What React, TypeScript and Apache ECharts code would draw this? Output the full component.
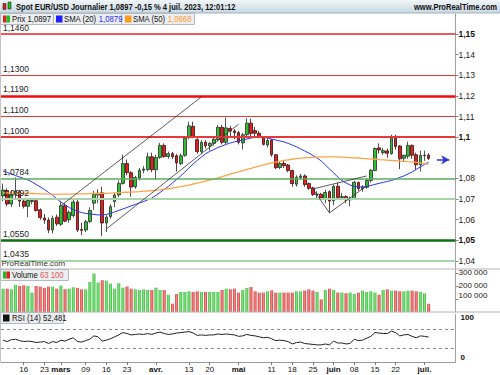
import React, { useEffect, useRef } from "react";
import * as echarts from "echarts";

const FONT = "'Liberation Sans', Arial, sans-serif";

const dates = [
  "2023-02-09","2023-02-10","2023-02-13","2023-02-14","2023-02-15","2023-02-16","2023-02-17","2023-02-20","2023-02-21","2023-02-22","2023-02-23","2023-02-24","2023-02-27","2023-02-28",
  "2023-03-01","2023-03-02","2023-03-03","2023-03-06","2023-03-07","2023-03-08","2023-03-09","2023-03-10","2023-03-13","2023-03-14","2023-03-15","2023-03-16","2023-03-17","2023-03-20","2023-03-21","2023-03-22","2023-03-23","2023-03-24","2023-03-27","2023-03-28","2023-03-29","2023-03-30","2023-03-31",
  "2023-04-03","2023-04-04","2023-04-05","2023-04-06","2023-04-07","2023-04-10","2023-04-11","2023-04-12","2023-04-13","2023-04-14","2023-04-17","2023-04-18","2023-04-19","2023-04-20","2023-04-21","2023-04-24","2023-04-25","2023-04-26","2023-04-27","2023-04-28",
  "2023-05-01","2023-05-02","2023-05-03","2023-05-04","2023-05-05","2023-05-08","2023-05-09","2023-05-10","2023-05-11","2023-05-12","2023-05-15","2023-05-16","2023-05-17","2023-05-18","2023-05-19","2023-05-22","2023-05-23","2023-05-24","2023-05-25","2023-05-26","2023-05-29","2023-05-30","2023-05-31",
  "2023-06-01","2023-06-02","2023-06-05","2023-06-06","2023-06-07","2023-06-08","2023-06-09","2023-06-12","2023-06-13","2023-06-14","2023-06-15","2023-06-16","2023-06-19","2023-06-20","2023-06-21","2023-06-22","2023-06-23","2023-06-26","2023-06-27","2023-06-28","2023-06-29","2023-06-30",
  "2023-07-03","2023-07-04","2023-07-05","2023-07-06","2023-07-07","2023-07-10","2023-07-11","2023-07-12",
];

const openP = [
  1.0715,1.0741,1.0676,1.0722,1.0735,1.0690,1.0665,1.0688,1.0692,1.0648,
  1.0608,1.0598,1.0550,1.0612,1.0578,1.0668,1.0600,1.0620,1.0686,1.0552,
  1.0550,1.0591,1.0680,1.0720,1.0730,1.0584,1.0615,1.0688,1.0720,1.0776,
  1.0872,1.0828,1.0760,1.0802,1.0840,1.0843,1.0905,1.0842,1.0902,1.0960,
  1.0906,1.0920,1.0910,1.0872,1.0912,1.0998,1.1052,1.0988,1.0930,1.0975,
  1.0958,1.0970,1.0988,1.1048,1.0975,1.1042,1.1030,1.1022,1.0972,1.1012,
  1.1068,1.1032,1.1019,1.1000,1.0962,1.0986,1.0915,1.0853,1.0873,1.0865,
  1.0838,1.0772,1.0805,1.0812,1.0775,1.0754,1.0722,1.0723,1.0700,1.0736,
  1.0692,1.0762,1.0708,1.0712,1.0696,1.0702,1.0780,1.0750,1.0757,1.0790,
  1.0838,1.0948,1.0925,1.0933,1.0920,1.0995,1.0957,1.0898,1.0908,1.0960,
  1.0915,1.0866,1.0910,1.0913,
];
const closeP = [
  1.0744,1.0676,1.0722,1.0738,1.0690,1.0665,1.0693,1.0693,1.0645,1.0610,
  1.0598,1.0550,1.0606,1.0580,1.0668,1.0593,1.0636,1.0686,1.0550,1.0548,
  1.0590,1.0645,1.0722,1.0728,1.0584,1.0612,1.0663,1.0720,1.0776,1.0872,
  1.0828,1.0758,1.0805,1.0840,1.0846,1.0905,1.0842,1.0902,1.0960,1.0906,
  1.0920,1.0905,1.0875,1.0910,1.0995,1.1055,1.1000,1.0930,1.0975,1.0958,
  1.0970,1.0990,1.1048,1.0975,1.1045,1.1030,1.1022,1.0975,1.1012,1.1068,
  1.1018,1.1019,1.1002,1.0965,1.0984,1.0915,1.0852,1.0872,1.0862,1.0838,
  1.0775,1.0806,1.0812,1.0770,1.0752,1.0722,1.0724,1.0705,1.0732,1.0690,
  1.0762,1.0708,1.0712,1.0696,1.0700,1.0782,1.0750,1.0756,1.0790,1.0840,
  1.0945,1.0938,1.0935,1.0922,1.0995,1.0955,1.0895,1.0912,1.0960,1.0912,
  1.0866,1.0912,1.0913,1.0897,
];
const lowP = [
  1.0690,1.0665,1.0662,1.0700,1.0662,1.0655,1.0612,1.0675,1.0640,1.0600,
  1.0580,1.0535,1.0533,1.0570,1.0570,1.0588,1.0585,1.0610,1.0540,1.0525,
  1.0540,1.0585,1.0648,1.0680,1.0520,1.0540,1.0605,1.0660,1.0710,1.0770,
  1.0815,1.0712,1.0750,1.0790,1.0825,1.0835,1.0830,1.0793,1.0895,1.0900,
  1.0895,1.0895,1.0833,1.0865,1.0905,1.0990,1.0995,1.0920,1.0920,1.0945,
  1.0935,1.0960,1.0980,1.0965,1.0965,1.1000,1.0990,1.0965,1.0940,1.1000,
  1.1005,1.1005,1.0995,1.0960,1.0950,1.0905,1.0845,1.0845,1.0850,1.0830,
  1.0760,1.0760,1.0795,1.0760,1.0745,1.0715,1.0705,1.0695,1.0680,1.0635,
  1.0670,1.0700,1.0695,1.0680,1.0665,1.0695,1.0740,1.0735,1.0750,1.0780,
  1.0835,1.0920,1.0915,1.0900,1.0915,1.0940,1.0845,1.0880,1.0895,1.0895,
  1.0840,1.0833,1.0885,1.0890,
];
const highP = [
  1.0775,1.0752,1.0740,1.0805,1.0745,1.0705,1.0702,1.0705,1.0706,1.0655,
  1.0628,1.0610,1.0620,1.0625,1.0690,1.0680,1.0645,1.0695,1.0695,1.0585,
  1.0598,1.0660,1.0740,1.0748,1.0760,1.0622,1.0675,1.0730,1.0790,1.0915,
  1.0892,1.0835,1.0812,1.0850,1.0860,1.0925,1.0925,1.0915,1.0972,1.0970,
  1.0930,1.0928,1.0918,1.0920,1.1000,1.1075,1.1075,1.0995,1.0985,1.0985,
  1.0975,1.0998,1.1058,1.1060,1.1095,1.1055,1.1040,1.1030,1.1020,1.1092,
  1.1090,1.1050,1.1030,1.1005,1.0995,1.0990,1.0918,1.0880,1.0885,1.0870,
  1.0842,1.0815,1.0822,1.0820,1.0780,1.0760,1.0738,1.0730,1.0745,1.0742,
  1.0770,1.0780,1.0730,1.0718,1.0712,1.0787,1.0785,1.0768,1.0800,1.0845,
  1.0950,1.0970,1.0948,1.0945,1.1012,1.1012,1.0962,1.0915,1.0978,1.0965,
  1.0925,1.0935,1.0935,1.0922,
];

const sma20 = [
  1.0836,1.0829,1.0822,1.0814,1.0807,1.0800,1.0793,1.0783,1.0771,1.0759,
  1.0747,1.0732,1.0718,1.0701,1.0686,1.0672,1.0659,1.0650,1.0640,1.0635,
  1.0630,1.0628,1.0626,1.0623,1.0623,1.0626,1.0630,1.0638,1.0645,1.0652,
  1.0659,1.0667,1.0674,1.0681,1.0688,1.0696,1.0705,1.0718,1.0732,1.0747,
  1.0761,1.0778,1.0795,1.0812,1.0831,1.0851,1.0870,1.0887,1.0904,1.0919,
  1.0931,1.0940,1.0950,1.0957,1.0965,1.0972,1.0977,1.0982,1.0986,1.0991,
  1.0996,1.0999,1.0999,1.0999,1.0996,1.0991,1.0986,1.0982,1.0977,1.0970,
  1.0962,1.0953,1.0943,1.0933,1.0923,1.0911,1.0899,1.0885,1.0865,1.0846,
  1.0827,1.0807,1.0790,1.0778,1.0768,1.0761,1.0759,1.0759,1.0761,1.0766,
  1.0771,1.0776,1.0781,1.0785,1.0790,1.0797,1.0805,1.0812,1.0822,1.0831,
  1.0844,1.0856,1.0868,1.0879,
];
const sma50 = [
  1.0730,1.0730,1.0729,1.0729,1.0728,1.0727,1.0727,1.0727,1.0726,1.0725,
  1.0725,1.0724,1.0724,1.0723,1.0724,1.0724,1.0724,1.0725,1.0725,1.0725,
  1.0725,1.0726,1.0727,1.0727,1.0728,1.0728,1.0729,1.0730,1.0731,1.0732,
  1.0733,1.0734,1.0735,1.0736,1.0738,1.0739,1.0741,1.0743,1.0745,1.0748,
  1.0750,1.0753,1.0757,1.0760,1.0764,1.0768,1.0773,1.0777,1.0782,1.0787,
  1.0792,1.0797,1.0803,1.0809,1.0815,1.0821,1.0827,1.0832,1.0838,1.0844,
  1.0849,1.0855,1.0860,1.0865,1.0870,1.0875,1.0879,1.0883,1.0887,1.0890,
  1.0893,1.0896,1.0898,1.0900,1.0901,1.0902,1.0903,1.0904,1.0904,1.0904,
  1.0904,1.0904,1.0903,1.0902,1.0901,1.0900,1.0899,1.0897,1.0896,1.0894,
  1.0893,1.0891,1.0890,1.0889,1.0887,1.0886,1.0884,1.0883,1.0881,1.0880,
  1.0878,1.0875,1.0872,1.0868,
];

const volumes = [
  179000,179000,174000,210000,200000,205000,200000,149000,200000,195000,
  185000,195000,195000,179000,203000,174000,179000,190000,185000,174000,
  174000,231000,295000,226000,244000,241000,218000,179000,221000,187000,
  195000,179000,174000,169000,174000,169000,169000,187000,169000,169000,
  133000,64000,138000,154000,154000,159000,154000,159000,154000,154000,
  154000,154000,154000,169000,179000,174000,179000,149000,169000,185000,
  192000,159000,149000,149000,159000,167000,149000,149000,149000,149000,
  149000,159000,159000,164000,174000,164000,154000,97000,169000,179000,
  169000,149000,149000,144000,149000,138000,149000,164000,154000,159000,
  149000,133000,169000,174000,164000,164000,159000,159000,164000,164000,
  159000,154000,144000,63100,
];

const rsi = [
  46,43,47,48,45,43,44,43,41,42,
  43,39,43,41,46,44,48,51,43,42,
  45,48,55,53,44,46,49,53,57,62,
  60,57,58,59,58,60,58,61,63,60,
  58,59,61,62,63,64,61,56,57,56,
  57,57,59,58,59,58,57,54,55,58,
  56,55,53,51,52,49,45,46,45,43,
  38,41,42,39,38,37,36,36,38,36,
  44,40,40,38,39,48,45,46,50,54,
  62,61,60,60,65,62,55,57,58,54,
  51,55,54,52.481,
];

const priceTicks = [1.04, 1.05, 1.06, 1.07, 1.08, 1.1, 1.11, 1.12, 1.13, 1.14, 1.15];
const volumeTicks = [100000, 200000, 300000];
const rsiTicks = [0, 100];
const rsiBands = [70, 30];

const dateTicks: [string, string][] = [
  ["2023-02-16", "16"], ["2023-02-23", "23"], ["2023-03-01", "mars"], ["2023-03-09", "09"],
  ["2023-03-16", "16"], ["2023-03-23", "23"], ["2023-04-03", "avr."], ["2023-04-13", "13"],
  ["2023-04-20", "20"], ["2023-05-01", "mai"], ["2023-05-11", "11"], ["2023-05-18", "18"],
  ["2023-05-25", "25"], ["2023-06-01", "juin"], ["2023-06-08", "08"], ["2023-06-15", "15"],
  ["2023-06-22", "22"], ["2023-07-03", "juil."],
];

const levelValues = [1.146, 1.13, 1.119, 1.11, 1.1, 1.0784, 1.0692, 1.055, 1.0435];
const levelStyles = [
  { color: "#e42222", width: 1.5 },
  { color: "#e83535", width: 1 },
  { color: "#f00c0c", width: 2.5 },
  { color: "#e83535", width: 1 },
  { color: "#e63a3a", width: 2 },
  { color: "#5cae5c", width: 1.5 },
  { color: "#a9d4a9", width: 2 },
  { color: "#0f700f", width: 2.5 },
  { color: "#a9d4a9", width: 2 },
];

const trendLines: [string, number][][] = [
  [["2023-03-01", 1.0668], ["2023-04-18", 1.1195]],
  [["2023-03-16", 1.0555], ["2023-05-01", 1.1063]],
  [["2023-05-25", 1.0749], ["2023-06-13", 1.0812]],
  [["2023-05-25", 1.0749], ["2023-05-31", 1.0633]],
  [["2023-05-31", 1.0633], ["2023-06-13", 1.0764]],
];
const arrowLine: [string, number][] = [["2023-07-06", 1.089], ["2023-07-11", 1.089]];

const lastPrice = 1.0897;
const lastSma20 = 1.0879;
const lastSma50 = 1.0868;
const lastVolume = 63100;
const lastRsi = 52.481;

const fmtComma = (v: number, d: number) => v.toFixed(d).replace(".", ",");
const fmtAxisPrice = (v: number) => v.toFixed(2).replace(/0$/, "").replace(".", ",");
const fmtVol = (v: number) => {
  const s = Math.round(v).toString();
  return s.replace(/\B(?=(\d{3})+(?!\d))/g, " ");
};

export default function App() {
  const ref = useRef<HTMLDivElement>(null);

  useEffect(() => {
    if (!ref.current) return;
    const chart = echarts.init(ref.current, null, { renderer: "svg", width: 500, height: 375 });

    const labelMap: Record<string, string> = {};
    dateTicks.forEach(([d, t]) => (labelMap[d] = t));

    const candleData = openP.map((o, i) => [o, closeP[i], lowP[i], highP[i]]);
    const upGrad = new echarts.graphic.LinearGradient(0, 0, 1, 0, [
      { offset: 0, color: "#34ba34" },
      { offset: 0.5, color: "#86e286" },
      { offset: 1, color: "#34ba34" },
    ]);
    const downGrad = new echarts.graphic.LinearGradient(0, 0, 1, 0, [
      { offset: 0, color: "#d43838" },
      { offset: 0.5, color: "#f08c8c" },
      { offset: 1, color: "#d43838" },
    ]);
    const volData = volumes.map((v, i) => ({
      value: v,
      itemStyle: { color: closeP[i] >= openP[i] ? upGrad : downGrad },
    }));

    const levelMarks = levelValues.map((v, i) => ({
      yAxis: v,
      lineStyle: { color: levelStyles[i].color, width: levelStyles[i].width, type: "solid" },
      label: {
        show: true,
        position: "insideStartTop",
        formatter: fmtComma(v, 4),
        color: "#222",
        fontSize: 8.5,
        fontFamily: FONT,
        distance: 2,
      },
    }));
    const trendMarks = trendLines.map((seg) => [
      { coord: seg[0], lineStyle: { color: "#333", width: 0.8, type: "solid" }, label: { show: false } },
      { coord: seg[1] },
    ]);
    const arrowMark = [
      { coord: arrowLine[0], lineStyle: { color: "#2a3ad8", width: 1.5, type: "solid" }, label: { show: false }, symbol: "none" },
      { coord: arrowLine[1], symbol: "arrow", symbolSize: [7, 8] },
    ];
    const priceBox = {
      yAxis: lastPrice,
      lineStyle: { width: 0, opacity: 0 },
      label: {
        show: true,
        position: "end",
        distance: 1,
        formatter: fmtComma(lastPrice, 4),
        backgroundColor: "#ffd21c",
        borderColor: "#c9a21a",
        borderWidth: 1,
        padding: [2, 3, 1, 3],
        color: "#000",
        fontWeight: "bold",
        fontSize: 9.5,
        fontFamily: FONT,
      },
    };

    const xBase = {
      type: "category",
      data: dates,
      boundaryGap: true,
    };

    const option: any = {
      animation: false,
      backgroundColor: "#ffffff",
      textStyle: { fontFamily: FONT },
      grid: [
        { left: 1, right: 44.5, top: 14, height: 255 },
        { left: 1, right: 44.5, top: 269, height: 43 },
        { left: 1, right: 44.5, top: 314.5, height: 47.5 },
      ],
      xAxis: [
        { ...xBase, gridIndex: 0, show: false },
        { ...xBase, gridIndex: 1, show: false },
        {
          ...xBase,
          gridIndex: 2,
          axisLine: { show: true, lineStyle: { color: "#9a9a9a" } },
          axisTick: {
            show: true,
            alignWithLabel: true,
            length: 3,
            interval: (_i: number, v: string) => !!labelMap[v],
            lineStyle: { color: "#777" },
          },
          axisLabel: {
            interval: 0,
            margin: 3,
            fontSize: 8,
            fontFamily: FONT,
            color: "#111",
            formatter: (v: string) => {
              const t = labelMap[v];
              if (!t) return "";
              return /^\d+$/.test(t) ? t : `{m|${t}}`;
            },
            rich: { m: { fontWeight: "bold", fontSize: 8, fontFamily: FONT, color: "#111" } },
          },
          splitLine: { show: false },
        },
      ],
      yAxis: [
        {
          type: "value",
          gridIndex: 0,
          position: "right",
          min: 1.0361,
          max: 1.1597,
          splitLine: { show: false },
          axisLine: { show: true, lineStyle: { color: "#a0a0a0" } },
          axisTick: { show: true, length: 3, customValues: priceTicks, lineStyle: { color: "#888" } },
          axisLabel: {
            customValues: priceTicks,
            margin: 3,
            fontSize: 8.5,
            fontFamily: FONT,
            color: "#222",
            formatter: (v: number) => {
              const t = fmtAxisPrice(v);
              return Math.round(v * 100) % 5 === 0 ? `{b|${t}}` : t;
            },
            rich: { b: { fontWeight: "bold", fontSize: 8.5, fontFamily: FONT, color: "#111" } },
          },
        },
        {
          type: "value",
          gridIndex: 1,
          position: "right",
          min: 0,
          max: 330000,
          splitLine: { show: false },
          axisLine: { show: true, lineStyle: { color: "#a0a0a0" } },
          axisTick: { show: true, length: 3, customValues: volumeTicks, lineStyle: { color: "#888" } },
          axisLabel: {
            customValues: volumeTicks,
            margin: 3,
            fontSize: 8,
            fontFamily: FONT,
            color: "#222",
            formatter: (v: number) => (v === 100000 ? `{u|${fmtVol(v)}}` : fmtVol(v)),
            rich: { u: { fontSize: 8, fontFamily: FONT, color: "#222", padding: [0, 0, 6, 0] } },
          },
        },
        {
          type: "value",
          gridIndex: 2,
          position: "right",
          min: 0,
          max: 100,
          splitLine: { show: false },
          axisLine: { show: true, lineStyle: { color: "#a0a0a0" } },
          axisTick: { show: false },
          axisLabel: {
            customValues: rsiTicks,
            margin: 5,
            fontSize: 8,
            fontFamily: FONT,
            color: "#111",
            formatter: (v: number) => (v === 100 ? "{t|100}" : "{z|0}"),
            rich: {
              t: { fontWeight: "bold", fontSize: 8, padding: [5, 0, 0, 0], color: "#111" },
              z: { fontWeight: "bold", fontSize: 8, padding: [0, 0, 9, 0], color: "#111" },
            },
          },
        },
      ],
      series: [
        {
          type: "candlestick",
          xAxisIndex: 0,
          yAxisIndex: 0,
          data: candleData,
          barWidth: 3.2,
          itemStyle: {
            color: "#2fbf2f",
            color0: "#e01f1f",
            borderColor: "#2a2a2a",
            borderColor0: "#3a1010",
            borderWidth: 0.8,
          },
          markLine: {
            silent: true,
            symbol: ["none", "none"],
            animation: false,
            data: [...levelMarks, ...trendMarks, arrowMark, priceBox],
          },
          z: 3,
        },
        {
          type: "line",
          xAxisIndex: 0,
          yAxisIndex: 0,
          data: sma20,
          symbol: "none",
          lineStyle: { color: "#2b35f2", width: 1 },
          z: 4,
        },
        {
          type: "line",
          xAxisIndex: 0,
          yAxisIndex: 0,
          data: sma50,
          symbol: "none",
          lineStyle: { color: "#ffa446", width: 1.3 },
          z: 4,
        },
        {
          type: "bar",
          xAxisIndex: 1,
          yAxisIndex: 1,
          data: volData,
          barWidth: "72%",
          markLine: {
            silent: true,
            symbol: ["none", "none"],
            data: [
              {
                yAxis: lastVolume,
                lineStyle: { width: 0, opacity: 0 },
                label: {
                  show: true,
                  position: "end",
                  distance: 3,
                  formatter: fmtVol(lastVolume),
                  backgroundColor: "#fff",
                  borderColor: "#9a9a9a",
                  borderWidth: 1,
                  padding: [1, 2, 0, 2],
                  color: "#e06060",
                  fontSize: 8,
                  fontFamily: FONT,
                },
              },
            ],
          },
        },
        {
          type: "line",
          xAxisIndex: 2,
          yAxisIndex: 2,
          data: rsi,
          symbol: "none",
          lineStyle: { color: "#222", width: 1 },
          markLine: {
            silent: true,
            symbol: ["none", "none"],
            data: [
              ...rsiBands.map((b) => ({
                yAxis: b,
                lineStyle: { color: "#8a8a8a", width: 1, type: [3, 3] },
                label: { show: false },
              })),
              {
                yAxis: lastRsi,
                lineStyle: { width: 0, opacity: 0 },
                label: {
                  show: true,
                  position: "end",
                  distance: 3,
                  formatter: fmtComma(lastRsi, 3),
                  backgroundColor: "#fff",
                  borderColor: "#9a9a9a",
                  borderWidth: 1,
                  padding: [1, 2, 0, 2],
                  color: "#111",
                  fontSize: 8,
                  fontFamily: FONT,
                },
              },
            ],
          },
        },
      ],
      graphic: [
        {
          type: "rect",
          z: 100,
          shape: { x: 0, y: 0, width: 500, height: 13 },
          style: {
            fill: new echarts.graphic.LinearGradient(0, 0, 0, 1, [
              { offset: 0, color: "#f0f5f8" },
              { offset: 1, color: "#c8d8e2" },
            ]),
          },
        },
        { type: "line", z: 100, shape: { x1: 0, y1: 13, x2: 500, y2: 13 }, style: { stroke: "#9fb2be", lineWidth: 1 } },
        { type: "rect", z: 101, shape: { x: 3, y: 3.5, width: 3, height: 6 }, style: { fill: "#d22", stroke: "#222", lineWidth: 0.6 } },
        { type: "rect", z: 101, shape: { x: 8, y: 2, width: 3, height: 7 }, style: { fill: "#2b2", stroke: "#222", lineWidth: 0.6 } },
        {
          type: "text",
          z: 101,
          x: 16,
          y: 7,
          scaleX: 0.84,
          style: {
            text: "Spot EUR/USD Journalier 1,0897 -0,15 % 4 juil. 2023, 12:01:12",
            fontSize: 9,
            fontWeight: "bold",
            fontFamily: FONT,
            fill: "#111",
            verticalAlign: "middle",
          },
        },
        {
          type: "text",
          z: 101,
          x: 497,
          y: 7,
          scaleX: 0.84,
          style: {
            text: "www.ProRealTime.com",
            fontSize: 9,
            fontWeight: "bold",
            fontFamily: FONT,
            fill: "#111",
            align: "right",
            verticalAlign: "middle",
          },
        },
        { type: "rect", z: 100, shape: { x: 0.5, y: 13.5, width: 53, height: 11 }, style: { fill: "#ebedef", stroke: "#b3bac0", lineWidth: 1 } },
        { type: "rect", z: 100, shape: { x: 53.5, y: 13.5, width: 68, height: 11 }, style: { fill: "#ebedef", stroke: "#b3bac0", lineWidth: 1 } },
        { type: "rect", z: 100, shape: { x: 121.5, y: 13.5, width: 73, height: 11 }, style: { fill: "#ebedef", stroke: "#b3bac0", lineWidth: 1 } },
        { type: "rect", z: 101, shape: { x: 3, y: 15.5, width: 3.5, height: 7 }, style: { fill: "#d22" } },
        { type: "rect", z: 101, shape: { x: 6.5, y: 15.5, width: 3.5, height: 7 }, style: { fill: "#2b2" } },
        { type: "rect", z: 101, shape: { x: 56, y: 15.5, width: 6.5, height: 7 }, style: { fill: "#1f1fff" } },
        { type: "rect", z: 101, shape: { x: 125, y: 15.5, width: 6.5, height: 7 }, style: { fill: "#ff9a1f" } },
        {
          type: "text",
          z: 101,
          x: 12,
          y: 19.2,
          scaleX: 0.86,
          style: { text: "Prix " + fmtComma(lastPrice, 4), fontSize: 9, fontFamily: FONT, fill: "#111", verticalAlign: "middle" },
        },
        {
          type: "text",
          z: 101,
          x: 64,
          y: 19.2,
          scaleX: 0.86,
          style: {
            text: "SMA (20) {v|" + fmtComma(lastSma20, 4) + "}",
            fontSize: 9,
            fontFamily: FONT,
            fill: "#111",
            verticalAlign: "middle",
            rich: { v: { fill: "#2b2bff", fontSize: 9, fontFamily: FONT } },
          },
        },
        {
          type: "text",
          z: 101,
          x: 133,
          y: 19.2,
          scaleX: 0.86,
          style: {
            text: "SMA (50) {v|" + fmtComma(lastSma50, 4) + "}",
            fontSize: 9,
            fontFamily: FONT,
            fill: "#111",
            verticalAlign: "middle",
            rich: { v: { fill: "#ff9a2e", fontSize: 9, fontFamily: FONT } },
          },
        },
        {
          type: "text",
          z: 101,
          x: 1.5,
          y: 263.5,
          style: { text: "ProRealTime.com", fontSize: 8, fontFamily: FONT, fill: "#333", verticalAlign: "middle" },
        },
        { type: "line", z: 99, shape: { x1: 0, y1: 269, x2: 500, y2: 269 }, style: { stroke: "#b4b4b4", lineWidth: 1 } },
        { type: "line", z: 99, shape: { x1: 0, y1: 312, x2: 500, y2: 312 }, style: { stroke: "#b4b4b4", lineWidth: 1 } },
        { type: "line", z: 99, shape: { x1: 0.5, y1: 13, x2: 0.5, y2: 362 }, style: { stroke: "#c4c4c4", lineWidth: 1 } },
        { type: "rect", z: 100, shape: { x: 0.5, y: 269.5, width: 68, height: 11 }, style: { fill: "#ebedef", stroke: "#b3bac0", lineWidth: 1 } },
        { type: "rect", z: 101, shape: { x: 3, y: 271.5, width: 3.5, height: 7 }, style: { fill: "#2b2" } },
        { type: "rect", z: 101, shape: { x: 6.5, y: 271.5, width: 3.5, height: 7 }, style: { fill: "#d22" } },
        {
          type: "text",
          z: 101,
          x: 12,
          y: 275.2,
          scaleX: 0.86,
          style: {
            text: "Volume {r|" + fmtVol(lastVolume) + "}",
            fontSize: 9,
            fontFamily: FONT,
            fill: "#111",
            verticalAlign: "middle",
            rich: { r: { fill: "#e05a5a", fontSize: 9, fontFamily: FONT } },
          },
        },
        { type: "rect", z: 100, shape: { x: 0.5, y: 312.5, width: 63, height: 11 }, style: { fill: "#ebedef", stroke: "#b3bac0", lineWidth: 1 } },
        { type: "rect", z: 101, shape: { x: 3, y: 314.5, width: 6.5, height: 7 }, style: { fill: "#111" } },
        {
          type: "text",
          z: 101,
          x: 12,
          y: 318.2,
          scaleX: 0.86,
          style: { text: "RSI (14) " + fmtComma(lastRsi, 3), fontSize: 9, fontFamily: FONT, fill: "#111", verticalAlign: "middle" },
        },
      ],
    };

    chart.setOption(option);
    return () => chart.dispose();
  }, []);

  return (
    <div
      ref={ref}
      style={{ position: "fixed", left: 0, top: 0, width: 500, height: 375, background: "#fff" }}
    />
  );
}
